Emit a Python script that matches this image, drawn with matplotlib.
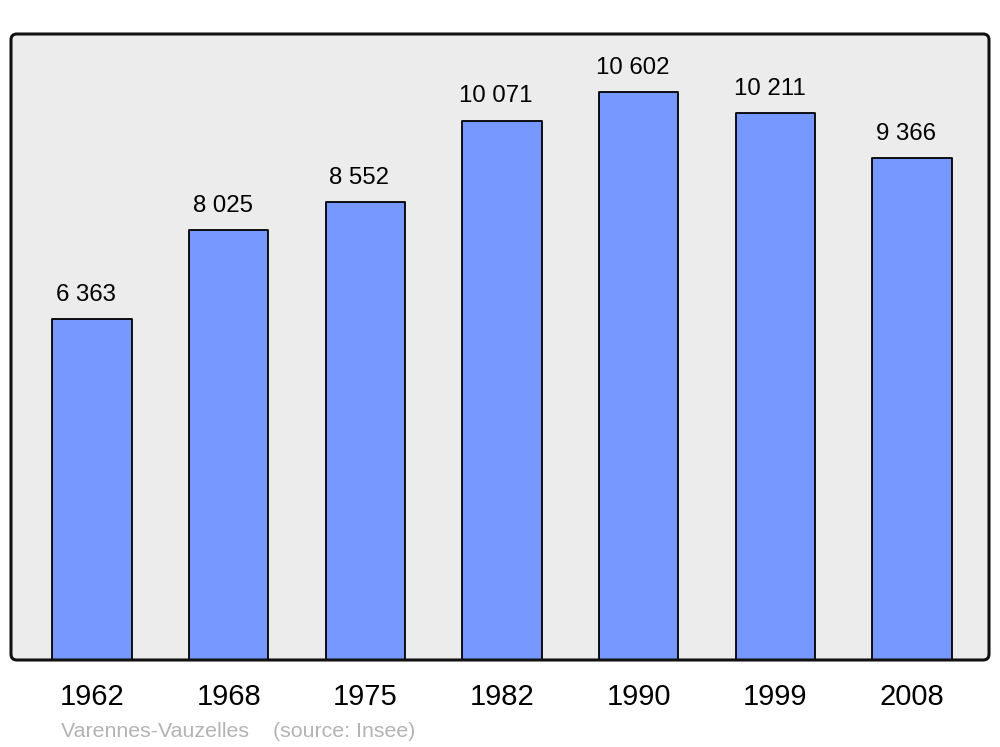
import matplotlib
matplotlib.use("Agg")
import matplotlib.pyplot as plt
from matplotlib.patches import FancyBboxPatch

years = ["1962", "1968", "1975", "1982", "1990", "1999", "2008"]
population = [6363, 8025, 8552, 10071, 10602, 10211, 9366]
value_labels = ["6 363", "8 025", "8 552", "10 071", "10 602", "10 211", "9 366"]
source_text = "Varennes-Vauzelles    (source: Insee)"

plt.rcParams['font.family'] = ['Liberation Sans', 'DejaVu Sans']

fig = plt.figure(figsize=(10, 7.47), dpi=100)
ax = fig.add_axes([0.011, 1 - 660/747, 0.978, (660 - 34)/747])
ax.set_facecolor('none')
for s in ax.spines.values():
    s.set_visible(False)

# rounded background + frame
bg = FancyBboxPatch((0, 0), 1, 1, boxstyle="round,pad=0,rounding_size=0.006",
                    transform=ax.transAxes, facecolor='#ececec', edgecolor='none',
                    zorder=0, mutation_aspect=978/626)
ax.add_patch(bg)
frame = FancyBboxPatch((0, 0), 1, 1, boxstyle="round,pad=0,rounding_size=0.006",
                       transform=ax.transAxes, facecolor='none', edgecolor='#111111',
                       linewidth=2.2, zorder=5, clip_on=False, mutation_aspect=978/626)
ax.add_patch(frame)

x = list(range(len(years)))
bars = ax.bar(x, population, width=0.58, color='#7799ff', edgecolor='#000000',
              linewidth=1.3, zorder=2)
for b in bars:
    b.set_joinstyle('round')

ax.set_xlim(-0.593, 6.563)
ax.set_ylim(0, 11690)

for xi, v, lab in zip(x, population, value_labels):
    ax.annotate(lab, (xi, v), xytext=(-4.3, 13.2), textcoords='offset points',
                ha='center', va='baseline', fontsize=17.3, color='#000000', zorder=6)

ax.set_yticks([])
ax.set_xticks(x)
ax.set_xticklabels(years, fontsize=21)
ax.tick_params(axis='x', length=0, pad=16.5)

fig.text(0.061, 1 - 737/747, source_text, fontsize=15.4, color='#b3b3b3',
         ha='left', va='baseline')

fig.savefig("out.png", dpi=100)
